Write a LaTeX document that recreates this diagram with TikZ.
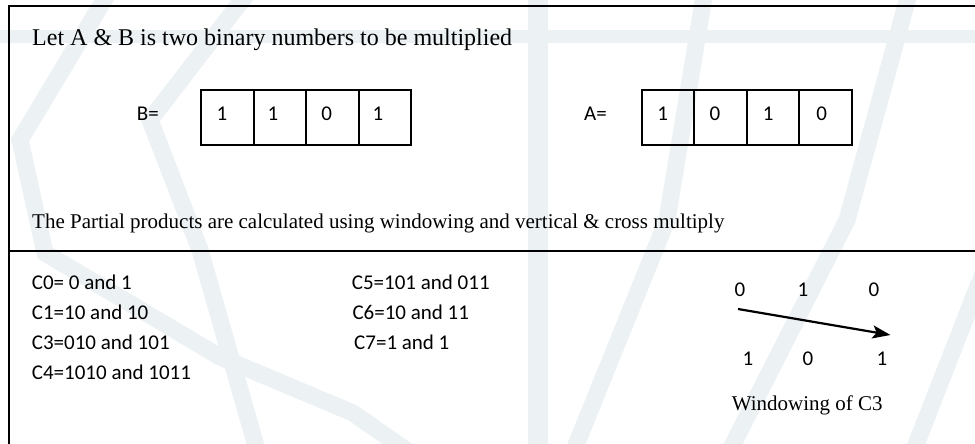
\documentclass[tikz,border=0pt]{standalone}
\usepackage{fontspec}
\setmainfont{Liberation Serif}
\newfontfamily\calib{Carlito}
\usetikzlibrary{arrows.meta,calc}
\definecolor{wmark}{RGB}{236,241,244}
\tikzset{
  frameline/.style={line width=2pt},
  cellbox/.style={draw, line width=2.2pt, minimum width=52.5pt, minimum height=55pt,
                  inner sep=0pt, anchor=north west},
  digit/.style={font=\calib\fontsize{21}{24}\selectfont, inner sep=0pt, anchor=base},
  sanslbl/.style={font=\calib\fontsize{21}{24}\selectfont, inner sep=0pt, anchor=base west},
  titletxt/.style={font=\fontsize{24}{28}\selectfont, inner sep=0pt, anchor=base west},
  bodytxt/.style={font=\fontsize{21}{24}\selectfont, inner sep=0pt, anchor=base west},
  band/.style={draw=wmark, line width=17pt, line join=miter},
  winarrow/.style={line width=2.2pt, -{Stealth[length=18pt,width=13pt,inset=4pt]}},
}
\begin{document}
\begin{tikzpicture}[x=1pt,y=-1pt]
\useasboundingbox (0,0) rectangle (975,444);
\fill[white] (0,0) rectangle (975,444);
\begin{scope}
\clip (0,0) rectangle (975,444);
% faint globe watermark
\draw[band, line width=13pt] (-10,37) -- (990,37);
\draw[band, line width=20pt] (538,-10) -- (538,460);
\draw[band] (110,-10) -- (20,140) -- (45,253) -- (220,357) -- (353,413) -- (420,460);
\draw[band] (250,-10) -- (150,120) -- (200,250) -- (260,460);
\draw[band] (705,-10) -- (667,220) -- (570,460);
\draw[band] (910,-10) -- (847,220) -- (725,460);
\draw[band] (1000,230) -- (910,460);
\end{scope}

% frame and divider
\coordinate (ftr) at (980,6.5);
\coordinate (ftl) at (8.5,6.5);
\coordinate (fbl) at (8.5,450);
\coordinate (dl) at (8.5,251);
\coordinate (dr) at (980,251);
\draw[frameline] (ftr) -- (ftl) -- (fbl);
\draw[frameline] (dl) -- (dr);

% heading
\node[titletxt] (title) at (32,45.5) {Let A \& B is two binary numbers to be multiplied};

% operand B
\node[sanslbl] (blbl) at (136.7,120) {B=};
\node[cellbox] (b1) at (200,89) {};
\node[cellbox] (b2) at (252.5,89) {};
\node[cellbox] (b3) at (305,89) {};
\node[cellbox] (b4) at (357.5,89) {};
\node[digit] (bd1) at (222,120) {1};
\node[digit] (bd2) at (273,120) {1};
\node[digit] (bd3) at (326.7,120) {0};
\node[digit] (bd4) at (378,120) {1};

% operand A
\node[sanslbl] (albl) at (584,120) {A=};
\node[cellbox] (a1) at (640.5,89) {};
\node[cellbox] (a2) at (693,89) {};
\node[cellbox] (a3) at (745.5,89) {};
\node[cellbox] (a4) at (798,89) {};
\node[digit] (ad1) at (662.7,120) {1};
\node[digit] (ad2) at (715,120) {0};
\node[digit] (ad3) at (768.3,120) {1};
\node[digit] (ad4) at (821.7,120) {0};

\node[bodytxt] (method) at (32,228) {The Partial products are calculated using windowing and vertical \& cross multiply};

% partial product columns
\node[sanslbl] (c0) at (31.7,289.3) {C0= 0 and 1};
\node[sanslbl] (c1) at (31.7,319.3) {C1=10 and 10};
\node[sanslbl] (c3) at (31.7,349.3) {C3=010 and 101};
\node[sanslbl] (c4) at (31.7,379.3) {C4=1010 and 1011};
\node[sanslbl] (c5) at (351.7,289.3) {C5=101 and 011};
\node[sanslbl] (c6) at (352.3,319.3) {C6=10 and 11};
\node[sanslbl] (c7) at (354,349.3) {C7=1 and 1};

% windowing of C3
\node[digit] (w1) at (740,296.7) {0};
\node[digit] (w2) at (803,296.7) {1};
\node[digit] (w3) at (874,296.7) {0};
\node[digit] (w4) at (748,365.7) {1};
\node[digit] (w5) at (808,365.7) {0};
\node[digit] (w6) at (882,365.7) {1};
\coordinate (arrs) at (738,309);
\coordinate (arre) at (890.5,335);
\draw[winarrow] (arrs) -- (arre);
\node[bodytxt] (wcap) at (731.7,410) {Windowing of C3};
\end{tikzpicture}
\end{document}
